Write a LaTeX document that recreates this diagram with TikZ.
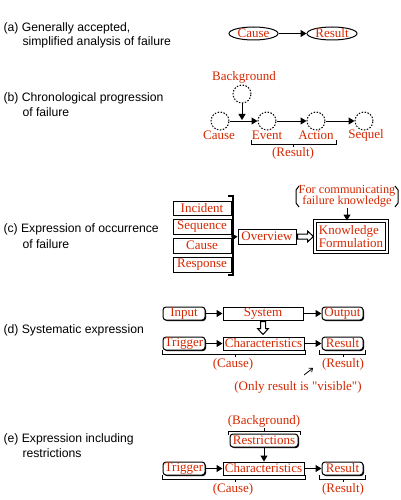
\documentclass[tikz,border=0pt]{standalone}
\usepackage{fontspec}
\setmainfont{Liberation Serif}[Ligatures=TeXOff]
\newfontfamily\labfont{Liberation Sans}
\usetikzlibrary{shapes.geometric,arrows.meta,shadows,calc}
\definecolor{myred}{RGB}{214,40,0}
\begin{document}
\begin{tikzpicture}[x=1pt,y=-1pt,line width=1pt,
 lab/.style={font=\labfont\fontsize{12.2}{15}\selectfont, anchor=base west, inner sep=0},
 rt/.style={text=myred, font=\fontsize{13}{13}\selectfont, inner sep=0},
 ell/.style={ellipse, draw, rt, minimum height=13},
 dc/.style={circle, draw, dash pattern=on 1.5pt off 1.5pt, minimum size=18, inner sep=0},
 arr/.style={-{Triangle[length=6pt,width=7pt]}},
 shd/.style={drop shadow={shadow xshift=1pt, shadow yshift=-1pt, fill=black, opacity=1}},
 rbox/.style={draw, rt, rounded corners=3, fill=white, minimum height=13, shd},
 sbox/.style={draw, rt, fill=white, minimum height=13},
 hollow/.style={draw, fill=white},
]
\useasboundingbox[fill=white] (0,0) rectangle (400,500);

% ---------- (a)
\node[lab] (la1) at (3,32) {(a) Generally accepted,};
\node[lab] (la2) at (22,46) {simplified analysis of failure};
\node[ell, minimum width=49] (acause) at (253.5,33.5) {Cause};
\node[ell, minimum width=50] (aresult) at (332,33.5) {Result};
\draw[arr] (acause.east) -- (aresult.west);

% ---------- (b)
\node[lab] (lb1) at (3,102) {(b) Chronological progression};
\node[lab] (lb2) at (22,117) {of failure};
\node[rt] (bbgt) at (244,77) {Background};
\node[dc] (bbg) at (242,94) {};
\node[dc] (bcause) at (220,121) {};
\node[dc] (bevent) at (267,121) {};
\node[dc] (baction) at (316,121) {};
\node[dc] (bseq) at (364,121) {};
\draw[arr] (bcause.east) -- (bevent.west);
\draw[arr] (bevent.east) -- (baction.west);
\draw[arr] (baction.east) -- (bseq.west);
\draw[arr, shorten >=1pt] (bbg.south) -- (bbg.south |- bcause.center);
\node[rt] (bcauset) at (219,135) {Cause};
\node[rt] (beventt) at (267,135) {Event};
\node[rt] (bactiont) at (316,135) {Action};
\node[rt] (bseqt) at (366,135) {Sequel};
\draw (251,140) -- (251,144) -- (336,144) -- (336,140);
\draw (293,144) -- (293,147);
\node[rt] (bres) at (293,153) {(Result)};

% ---------- (c)
\node[lab] (lc1) at (3,232) {(c) Expression of occurrence};
\node[lab] (lc2) at (22,248) {of failure};
\node[sbox, shd, minimum width=58, minimum height=14] (cinc) at (202,208) {Incident};
\node[sbox, shd, minimum width=58, minimum height=15] (cseq) at (202,226.5) {Sequence};
\node[sbox, shd, minimum width=58, minimum height=15] (ccause) at (202,245.5) {Cause};
\node[sbox, shd, minimum width=58, minimum height=15] (cresp) at (202,264.5) {Response};
\draw[line width=2pt] (228,196) -- (233,196) -- (233,275) -- (228,275);
\coordinate (cbr) at (233,237);
\node[sbox, minimum width=58, minimum height=15] (cov) at (267,236.5) {Overview};
\draw[arr] (cbr) -- (cov.west);
\node[sbox, double, double distance=1.5pt, minimum width=72, minimum height=31, align=left] (ckf) at (351,236.5) {Knowledge\\Formulation};
\draw[hollow] ($(cov.east)+(1,-2.5)$) -- ++(10,0) -- ++(0,-3) -- ++(6,5.5) -- ++(-6,5.5) -- ++(0,-3) -- ++(-10,0) -- cycle;
\node[rt, align=center, font=\fontsize{12.3}{11.5}\selectfont] (cfc) at (347,196.5) {For communicating\\failure knowledge};
\draw (299,186) -- (296,190) -- (296,203) -- (299,207);
\draw (395,186) -- (398,190) -- (398,203) -- (395,207);
\draw[arr] (cfc.south) -- (cfc.south |- ckf.north);

% ---------- (d)
\node[lab] (ld1) at (3,333) {(d) Systematic expression};
\node[rbox, minimum width=42] (dinput) at (184,313.5) {Input};
\node[sbox, minimum width=80] (dsys) at (263,313.5) {System};
\node[rbox, minimum width=41] (doutput) at (342.5,313.5) {Output};
\draw[arr] (dinput.east) -- (dsys.west);
\draw[arr] (dsys.east) -- (doutput.west);
\node[rbox, minimum width=42] (dtrig) at (184,343.5) {Trigger};
\node[sbox, minimum width=81] (dchar) at (263.5,343.5) {Characteristics};
\node[rbox, minimum width=41] (dres) at (342.5,343.5) {Result};
\draw[arr] (dtrig.east) -- (dchar.west);
\draw[arr] (dchar.east) -- (dres.west);
\draw[hollow] ($(dsys.south)+(-2.5,1)$) -- ++(0,7) -- ++(-3,0) -- ++(5.5,6) -- ++(5.5,-6) -- ++(-3,0) -- ++(0,-7) -- cycle;
\draw (162,350) -- (162,354) -- (305,354) -- (305,350);
\draw (235,354) -- (235,357);
\node[rt] (dcause) at (233,364) {(Cause)};
\draw (319,350) -- (319,354) -- (365,354) -- (365,350);
\draw (343,354) -- (343,357);
\node[rt] (dresl) at (343,364) {(Result)};
\node[rt] (donly) at (298,387) {(Only result is "visible")};
\coordinate (dpa) at (304,375);
\coordinate (dpb) at (313,368);
\draw[-{Straight Barb[length=3pt,width=5pt]}, line width=0.8pt] (dpa) -- (dpb);

% ---------- (e)
\node[lab] (le1) at (3,442) {(e) Expression including};
\node[lab] (le2) at (22,457) {restrictions};
\node[rt] (ebg) at (264,421) {(Background)};
\draw (228,435) -- (228,431) -- (300,431) -- (300,435);
\draw (264,431) -- (264,428);
\node[rbox, minimum width=68] (erestr) at (264,440.5) {Restrictions};
\node[rbox, minimum width=42] (etrig) at (184,468.5) {Trigger};
\node[sbox, minimum width=81] (echar) at (263.5,468.5) {Characteristics};
\node[rbox, minimum width=41] (eres) at (342.5,468.5) {Result};
\draw[arr] (erestr.south) -- (erestr.south |- echar.north);
\draw[arr] (etrig.east) -- (echar.west);
\draw[arr] (echar.east) -- (eres.west);
\draw (162,475) -- (162,479) -- (305,479) -- (305,475);
\draw (235,479) -- (235,482);
\node[rt] (ecause) at (233,489) {(Cause)};
\draw (319,475) -- (319,479) -- (365,479) -- (365,475);
\draw (343,479) -- (343,482);
\node[rt] (eresl) at (343,489) {(Result)};
\end{tikzpicture}
\end{document}
